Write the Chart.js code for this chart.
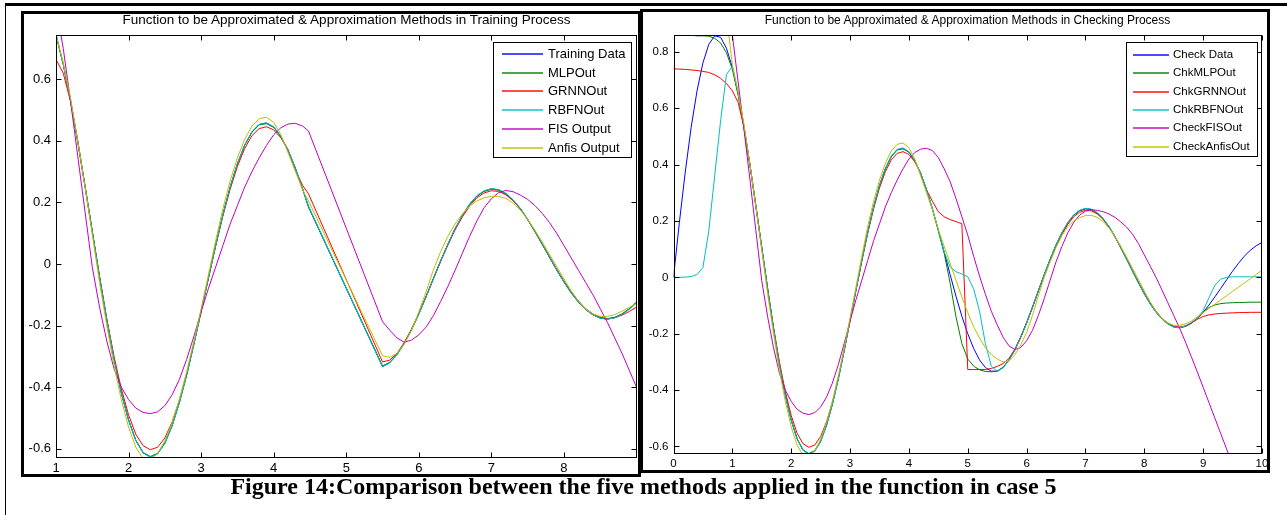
<!DOCTYPE html>
<html>
<head>
<meta charset="utf-8">
<title>Figure 14</title>
<script src="https://cdn.jsdelivr.net/npm/chart.js@4.4.1/dist/chart.umd.min.js"></script>
<style>
  html, body { margin: 0; padding: 0; background: #fff; }
  #page { position: relative; width: 1287px; height: 515px; overflow: hidden; background: #fff; }
  #page canvas { position: absolute; left: 0; top: 0; }
  .frame { position: absolute; border: 3px solid #000; box-sizing: border-box; pointer-events: none; }
  .rule { position: absolute; background: #000; }
  .title { position: absolute; text-align: center; font-family: "Liberation Sans", Arial, sans-serif; color: #000; white-space: nowrap; }
  #caption { position: absolute; left: 0; width: 1287px; top: 473px; text-align: center;
             font-family: "Liberation Serif", "Times New Roman", serif; font-weight: bold; font-size: 24px; color: #000; white-space: nowrap; }
</style>
</head>
<body>
<div id="page">
  <canvas id="trainChart" width="1287" height="515"></canvas>
  <canvas id="checkChart" width="1287" height="515"></canvas>
  <div class="rule" style="left:5px; top:3px; width:1282px; height:3px;"></div>
  <div class="rule" style="left:5px; top:3px; width:1px; height:512px;"></div>
  <div class="frame" style="left:21px; top:11px; width:620px; height:466px;"></div>
  <div class="frame" style="left:640px; top:9px; width:630px; height:464px;"></div>
  <div class="title" style="left:56px; width:581px; top:12px; font-size:13.5px;">Function to be Approximated &amp; Approximation Methods in Training Process</div>
  <div class="title" style="left:673px; width:589px; top:13px; font-size:12px;">Function to be Approximated &amp; Approximation Methods in Checking Process</div>
  <div id="caption">Figure 14:Comparison between the five methods applied in the function in case 5</div>
</div>
<script>
// ---- Training process: sample points (gap between 4.48 and 5.5) ----
const trainX = [1,1.1,1.2,1.3,1.4,1.5,1.6,1.7,1.8,1.9,2,2.1,2.2,2.3,2.4,2.5,2.6,2.7,2.8,2.9,3,3.1,3.2,3.3,3.4,3.5,3.6,3.7,3.8,3.9,4,4.1,4.2,4.3,4.4,4.48,
  5.5,5.6,5.7,5.8,5.9,6,6.1,6.2,6.3,6.4,6.5,6.6,6.7,6.8,6.9,7,7.1,7.2,7.3,7.4,7.5,7.6,7.7,7.8,7.9,8,8.1,8.2,8.3,8.4,8.5,8.6,8.7,8.8,8.9,9];

const trainTarget = [0.745,0.649,0.531,0.398,0.253,0.105,-0.042,-0.182,-0.309,-0.419,-0.507,-0.573,-0.613,-0.627,-0.616,-0.582,-0.525,-0.450,-0.361,-0.260,-0.153,-0.045,0.061,0.161,0.250,0.326,0.386,0.429,0.453,0.458,0.445,0.414,0.369,0.311,0.243,0.185,
  -0.333,-0.320,-0.294,-0.258,-0.213,-0.162,-0.106,-0.048,0.010,0.064,0.115,0.158,0.194,0.221,0.237,0.244,0.241,0.229,0.208,0.180,0.145,0.106,0.065,0.023,-0.019,-0.058,-0.094,-0.124,-0.148,-0.165,-0.176,-0.179,-0.174,-0.163,-0.146,-0.124];

const trainMLP = [0.743,0.648,0.531,0.398,0.254,0.106,-0.041,-0.181,-0.308,-0.418,-0.506,-0.572,-0.612,-0.625,-0.615,-0.581,-0.524,-0.449,-0.360,-0.259,-0.152,-0.045,0.060,0.160,0.249,0.325,0.385,0.428,0.452,0.456,0.444,0.413,0.368,0.310,0.243,0.186,
  -0.331,-0.319,-0.293,-0.257,-0.212,-0.161,-0.105,-0.047,0.010,0.064,0.114,0.157,0.193,0.220,0.236,0.243,0.240,0.228,0.207,0.179,0.144,0.105,0.064,0.022,-0.019,-0.058,-0.093,-0.123,-0.147,-0.164,-0.175,-0.178,-0.173,-0.162,-0.145,-0.124];

const trainGRNN = [0.665,0.620,0.528,0.396,0.252,0.105,-0.041,-0.178,-0.300,-0.405,-0.490,-0.553,-0.590,-0.603,-0.595,-0.565,-0.513,-0.443,-0.357,-0.259,-0.154,-0.047,0.058,0.156,0.243,0.317,0.375,0.417,0.440,0.446,0.436,0.410,0.370,0.305,0.255,0.228,
  -0.318,-0.312,-0.290,-0.255,-0.211,-0.161,-0.106,-0.049,0.008,0.061,0.111,0.153,0.188,0.215,0.231,0.238,0.236,0.225,0.206,0.179,0.145,0.107,0.066,0.025,-0.016,-0.055,-0.090,-0.120,-0.145,-0.162,-0.173,-0.177,-0.174,-0.166,-0.154,-0.140];

const trainRBFN = [0.744,0.649,0.532,0.399,0.254,0.106,-0.041,-0.181,-0.309,-0.419,-0.507,-0.573,-0.613,-0.627,-0.617,-0.583,-0.526,-0.451,-0.362,-0.261,-0.154,-0.046,0.060,0.160,0.250,0.326,0.386,0.430,0.454,0.459,0.446,0.415,0.369,0.311,0.243,0.188,
  -0.334,-0.321,-0.295,-0.259,-0.214,-0.163,-0.107,-0.049,0.009,0.064,0.115,0.158,0.195,0.222,0.238,0.245,0.242,0.230,0.209,0.181,0.146,0.107,0.066,0.024,-0.018,-0.057,-0.093,-0.123,-0.148,-0.165,-0.176,-0.179,-0.175,-0.164,-0.147,-0.127];

const trainFIS = [0.84,0.70,0.53,0.35,0.17,-0.01,-0.14,-0.25,-0.34,-0.40,-0.44,-0.468,-0.482,-0.486,-0.48,-0.46,-0.425,-0.375,-0.31,-0.235,-0.155,-0.08,-0.01,0.06,0.13,0.19,0.25,0.30,0.345,0.385,0.42,0.443,0.455,0.457,0.448,0.432,
  -0.187,-0.215,-0.24,-0.254,-0.247,-0.23,-0.205,-0.168,-0.122,-0.073,-0.02,0.035,0.09,0.14,0.183,0.212,0.232,0.239,0.235,0.224,0.21,0.19,0.165,0.135,0.10,0.06,0.02,-0.02,-0.06,-0.10,-0.145,-0.19,-0.24,-0.29,-0.345,-0.40];

const trainAnfis = [0.745,0.655,0.54,0.40,0.25,0.095,-0.06,-0.20,-0.33,-0.44,-0.53,-0.595,-0.632,-0.636,-0.615,-0.575,-0.515,-0.44,-0.35,-0.25,-0.145,-0.035,0.075,0.18,0.27,0.345,0.405,0.448,0.472,0.477,0.46,0.42,0.36,0.30,0.24,0.205,
  -0.298,-0.303,-0.29,-0.26,-0.215,-0.155,-0.09,-0.02,0.04,0.09,0.13,0.163,0.188,0.205,0.215,0.22,0.22,0.213,0.198,0.175,0.145,0.11,0.072,0.032,-0.008,-0.048,-0.087,-0.12,-0.146,-0.162,-0.17,-0.17,-0.164,-0.153,-0.141,-0.128];

// ---- Checking process: samples every 0.1 from 0 to 10 ----
const chkX = [0,0.1,0.2,0.3,0.4,0.5,0.6,0.7,0.8,0.9,1,1.1,1.2,1.3,1.4,1.5,1.6,1.7,1.8,1.9,2,2.1,2.2,2.3,2.4,2.5,2.6,2.7,2.8,2.9,3,3.1,3.2,3.3,3.4,3.5,3.6,3.7,3.8,3.9,
  4,4.1,4.2,4.3,4.4,4.5,4.6,4.7,4.8,4.9,5,5.1,5.2,5.3,5.4,5.5,5.6,5.7,5.8,5.9,6,6.1,6.2,6.3,6.4,6.5,6.6,6.7,6.8,6.9,7,7.1,7.2,7.3,7.4,7.5,7.6,7.7,7.8,7.9,
  8,8.1,8.2,8.3,8.4,8.5,8.6,8.7,8.8,8.9,9,9.1,9.2,9.3,9.4,9.5,9.6,9.7,9.8,9.9,10];

const chkTarget = [0,0.195,0.374,0.532,0.662,0.761,0.827,0.857,0.852,0.813,0.745,0.649,0.531,0.398,0.253,0.105,-0.042,-0.182,-0.309,-0.419,-0.507,-0.573,-0.613,-0.627,-0.616,-0.582,-0.525,-0.450,-0.361,-0.260,
  -0.153,-0.045,0.061,0.161,0.250,0.326,0.386,0.429,0.453,0.458,0.445,0.414,0.369,0.311,0.243,0.168,0.089,0.010,-0.067,-0.138,-0.200,-0.252,-0.293,-0.320,-0.333,-0.333,-0.320,-0.294,-0.258,-0.213,
  -0.162,-0.106,-0.048,0.010,0.064,0.115,0.158,0.194,0.221,0.237,0.244,0.241,0.229,0.208,0.180,0.145,0.106,0.065,0.023,-0.019,-0.058,-0.094,-0.124,-0.148,-0.165,-0.176,-0.179,-0.174,-0.163,-0.146,
  -0.124,-0.098,-0.069,-0.039,-0.008,0.022,0.050,0.075,0.096,0.112,0.124];

const chkMLP = [1.00,0.95,0.90,0.859,0.857,0.857,0.856,0.848,0.832,0.797,0.738,0.645,0.530,0.398,0.254,0.106,-0.041,-0.181,-0.308,-0.418,-0.506,-0.572,-0.612,-0.625,-0.615,-0.581,-0.524,-0.449,-0.360,-0.259,
  -0.152,-0.045,0.060,0.160,0.249,0.325,0.385,0.428,0.452,0.456,0.444,0.413,0.368,0.310,0.241,0.165,0.085,-0.020,-0.140,-0.235,-0.290,-0.315,-0.328,-0.334,-0.335,-0.333,-0.319,-0.293,-0.257,-0.212,
  -0.161,-0.105,-0.047,0.010,0.064,0.114,0.157,0.193,0.220,0.236,0.243,0.240,0.228,0.207,0.179,0.144,0.105,0.064,0.022,-0.019,-0.058,-0.093,-0.123,-0.147,-0.164,-0.175,-0.178,-0.173,-0.162,-0.145,
  -0.124,-0.107,-0.098,-0.093,-0.091,-0.090,-0.089,-0.089,-0.088,-0.088,-0.088];

const chkGRNN = [0.740,0.739,0.738,0.736,0.734,0.731,0.727,0.719,0.706,0.688,0.662,0.620,0.528,0.396,0.252,0.105,-0.041,-0.178,-0.300,-0.405,-0.490,-0.553,-0.590,-0.603,-0.595,-0.565,-0.513,-0.443,-0.357,-0.259,
  -0.154,-0.047,0.058,0.156,0.243,0.317,0.375,0.417,0.440,0.446,0.436,0.410,0.370,0.310,0.270,0.233,0.215,0.205,0.198,0.190,-0.327,-0.327,-0.327,-0.327,-0.323,-0.316,-0.306,-0.288,-0.255,-0.211,
  -0.161,-0.106,-0.049,0.008,0.061,0.111,0.153,0.188,0.215,0.231,0.238,0.236,0.225,0.206,0.179,0.145,0.107,0.066,0.025,-0.016,-0.055,-0.090,-0.120,-0.145,-0.162,-0.173,-0.177,-0.172,-0.162,-0.149,
  -0.139,-0.133,-0.130,-0.128,-0.127,-0.126,-0.125,-0.125,-0.124,-0.124,-0.124];

const chkRBFN = [0.000,0.000,0.001,0.003,0.010,0.035,0.165,0.360,0.555,0.720,0.748,0.655,0.532,0.399,0.254,0.106,-0.041,-0.181,-0.309,-0.419,-0.507,-0.573,-0.613,-0.627,-0.617,-0.583,-0.526,-0.451,-0.362,-0.261,
  -0.154,-0.046,0.060,0.160,0.250,0.326,0.386,0.430,0.454,0.459,0.446,0.415,0.369,0.311,0.243,0.167,0.090,0.037,0.020,0.012,0.002,-0.040,-0.120,-0.235,-0.315,-0.334,-0.321,-0.295,-0.259,-0.214,
  -0.163,-0.107,-0.049,0.009,0.064,0.115,0.158,0.195,0.222,0.238,0.245,0.242,0.230,0.209,0.181,0.146,0.107,0.066,0.024,-0.018,-0.057,-0.093,-0.123,-0.148,-0.165,-0.176,-0.179,-0.172,-0.160,-0.145,
  -0.118,-0.072,-0.028,-0.006,0.000,0.002,0.002,0.002,0.002,0.002,0.002];

const chkFIS = [null,null,null,null,null,null,null,null,null,1.15,0.86,0.69,0.52,0.345,0.165,-0.012,-0.14,-0.25,-0.34,-0.40,-0.44,-0.468,-0.482,-0.487,-0.48,-0.46,-0.425,-0.375,-0.31,-0.235,
  -0.155,-0.08,-0.01,0.06,0.13,0.19,0.25,0.30,0.345,0.385,0.42,0.443,0.455,0.458,0.45,0.425,0.385,0.34,0.28,0.215,0.15,0.075,0.005,-0.06,-0.12,-0.168,-0.212,-0.243,-0.256,-0.249,
  -0.225,-0.188,-0.135,-0.075,-0.01,0.055,0.11,0.158,0.195,0.221,0.235,0.24,0.238,0.233,0.225,0.213,0.197,0.178,0.153,0.12,0.08,0.04,0.0,-0.045,-0.09,-0.135,-0.18,-0.23,-0.282,-0.335,
  -0.39,-0.445,-0.50,-0.555,-0.61,-0.665,-0.72,-0.775,-0.83,-0.885,-0.94];

const chkAnfis = [null,null,null,null,null,null,null,null,null,0.93,0.755,0.655,0.54,0.40,0.25,0.095,-0.06,-0.20,-0.33,-0.44,-0.53,-0.595,-0.632,-0.636,-0.615,-0.575,-0.515,-0.44,-0.35,-0.25,
  -0.145,-0.035,0.075,0.18,0.27,0.345,0.405,0.448,0.472,0.477,0.46,0.42,0.36,0.30,0.24,0.17,0.11,0.05,-0.01,-0.07,-0.125,-0.175,-0.215,-0.25,-0.273,-0.29,-0.30,-0.296,-0.275,-0.24,
  -0.195,-0.135,-0.065,0.0,0.055,0.105,0.148,0.18,0.20,0.212,0.219,0.22,0.213,0.198,0.175,0.145,0.11,0.072,0.032,-0.008,-0.048,-0.087,-0.12,-0.146,-0.162,-0.17,-0.17,-0.165,-0.155,-0.14,
  -0.125,-0.11,-0.095,-0.08,-0.065,-0.05,-0.035,-0.02,-0.005,0.01,0.025];

// ---- Series labels and the MATLAB default line colours ----
const trainLabels = ['Training Data', 'MLPOut', 'GRNNOut', 'RBFNOut', 'FIS Output', 'Anfis Output'];
const checkLabels = ['Check Data', 'ChkMLPOut', 'ChkGRNNOut', 'ChkRBFNOut', 'CheckFISOut', 'CheckAnfisOut'];
const seriesColors = ['#0000ff', '#008000', '#ff0000', '#00bfbf', '#bf00bf', '#bfbf00'];

const trainValues = [trainTarget, trainMLP, trainGRNN, trainRBFN, trainFIS, trainAnfis];
const checkValues = [chkTarget, chkMLP, chkGRNN, chkRBFN, chkFIS, chkAnfis];

const xTicksTrain = [1, 2, 3, 4, 5, 6, 7, 8];
const xTicksCheck = [0, 1, 2, 3, 4, 5, 6, 7, 8, 9, 10];

function buildDatasets(xs, valueSets, labels) {
  const n = valueSets.length;
  return valueSets.map((ys, i) => ({
    label: labels[i],
    data: xs.map((x, k) => ({ x: x, y: ys[k] })),
    borderColor: seriesColors[i],
    backgroundColor: seriesColors[i],
    borderWidth: 1,
    pointRadius: 0,
    tension: 0,
    fill: false,
    order: n - i   // later series are painted on top
  }));
}

// Box outline with tick marks pointing inward on all four sides
const matlabAxes = {
  id: 'matlabAxes',
  afterDatasetsDraw(chart, args, opts) {
    const { ctx, chartArea: a, scales: { x, y } } = chart;
    const len = opts.tickLength || 5;
    const L = Math.round(a.left) + 0.5, R = Math.round(a.right) - 0.5;
    const T = Math.round(a.top) + 0.5, B = Math.round(a.bottom) - 0.5;
    ctx.save();
    ctx.strokeStyle = '#000';
    ctx.lineWidth = 1;
    ctx.beginPath();
    x.ticks.forEach(t => {
      const px = Math.round(x.getPixelForValue(t.value)) + 0.5;
      ctx.moveTo(px, B); ctx.lineTo(px, B - len);
      ctx.moveTo(px, T); ctx.lineTo(px, T + len);
    });
    y.ticks.forEach(t => {
      const py = Math.round(y.getPixelForValue(t.value)) + 0.5;
      ctx.moveTo(L, py); ctx.lineTo(L + len, py);
      ctx.moveTo(R, py); ctx.lineTo(R - len, py);
    });
    ctx.stroke();
    ctx.strokeRect(L, T, R - L, B - T);
    ctx.restore();
  }
};

// Legend drawn as a white box with a line sample for every series
const boxLegend = {
  id: 'boxLegend',
  afterDraw(chart, args, o) {
    const ctx = chart.ctx;
    ctx.save();
    ctx.fillStyle = '#fff';
    ctx.fillRect(o.x, o.y, o.w, o.h);
    ctx.strokeStyle = '#000';
    ctx.lineWidth = 1;
    ctx.strokeRect(o.x + 0.5, o.y + 0.5, o.w, o.h);
    ctx.font = o.font;
    ctx.textBaseline = 'middle';
    ctx.textAlign = 'left';
    chart.data.datasets.forEach((ds, i) => {
      const yy = Math.round(o.rowY + i * o.rowGap);
      ctx.save();
      ctx.globalAlpha = 0.7;
      ctx.lineWidth = 2;
      ctx.strokeStyle = seriesColors[i];
      ctx.beginPath();
      ctx.moveTo(o.lineX1, yy);
      ctx.lineTo(o.lineX2, yy);
      ctx.stroke();
      ctx.restore();
      ctx.fillStyle = '#000';
      ctx.fillText(ds.label, o.textX, yy);
    });
    ctx.restore();
  }
};

function makeChart(canvasId, cfg) {
  const fmt = v => String(Math.round(v * 10) / 10);
  return new Chart(document.getElementById(canvasId), {
    type: 'line',
    data: { datasets: buildDatasets(cfg.xs, cfg.values, cfg.labels) },
    options: {
      responsive: false,
      animation: false,
      devicePixelRatio: 1,
      layout: { padding: cfg.padding },
      plugins: {
        legend: { display: false },
        tooltip: { enabled: false },
        title: { display: false },
        matlabAxes: { tickLength: 5 },
        boxLegend: cfg.legend
      },
      scales: {
        x: {
          type: 'linear',
          min: cfg.xMin, max: cfg.xMax,
          afterBuildTicks: s => { s.ticks = cfg.xTicks.map(v => ({ value: v })); },
          ticks: { color: '#000', font: { family: 'Liberation Sans, Arial, sans-serif', size: cfg.tickFont },
                   padding: 3, maxRotation: 0, autoSkip: false, callback: v => fmt(v) },
          grid: { display: false, drawTicks: false },
          border: { display: false },
          afterFit: s => { s.height = 22; s.paddingLeft = 0; s.paddingRight = 0; }
        },
        y: {
          type: 'linear',
          min: cfg.yMin, max: cfg.yMax,
          afterBuildTicks: s => { s.ticks = cfg.yTicks.map(v => ({ value: v })); },
          ticks: { color: '#000', font: { family: 'Liberation Sans, Arial, sans-serif', size: cfg.tickFont },
                   padding: 5, autoSkip: false, callback: v => fmt(v) },
          grid: { display: false, drawTicks: false },
          border: { display: false },
          afterFit: s => { s.width = 40; s.paddingTop = 0; s.paddingBottom = 0; }
        }
      }
    },
    plugins: [matlabAxes, boxLegend]
  });
}

makeChart('trainChart', {
  xs: trainX, values: trainValues, labels: trainLabels,
  xMin: 1, xMax: 9, yMin: -0.63, yMax: 0.744,
  xTicks: xTicksTrain, yTicks: [-0.6, -0.4, -0.2, 0, 0.2, 0.4, 0.6],
  tickFont: 13,
  padding: { left: 16, top: 35, right: 650.5, bottom: 35 },
  legend: { x: 493, y: 42, w: 138, h: 115, lineX1: 502, lineX2: 543, textX: 548,
            rowY: 54, rowGap: 18.7, font: '13px "Liberation Sans", Arial, sans-serif' }
});

makeChart('checkChart', {
  xs: chkX, values: checkValues, labels: checkLabels,
  xMin: 0, xMax: 10, yMin: -0.625, yMax: 0.86,
  xTicks: xTicksCheck, yTicks: [-0.6, -0.4, -0.2, 0, 0.2, 0.4, 0.6, 0.8],
  tickFont: 11.5,
  padding: { left: 633.5, top: 35, right: 25, bottom: 39.5 },
  legend: { x: 1126, y: 42, w: 131, h: 114, lineX1: 1133, lineX2: 1169, textX: 1173,
            rowY: 55, rowGap: 18.3, font: '11.5px "Liberation Sans", Arial, sans-serif' }
});
</script>
</body>
</html>
